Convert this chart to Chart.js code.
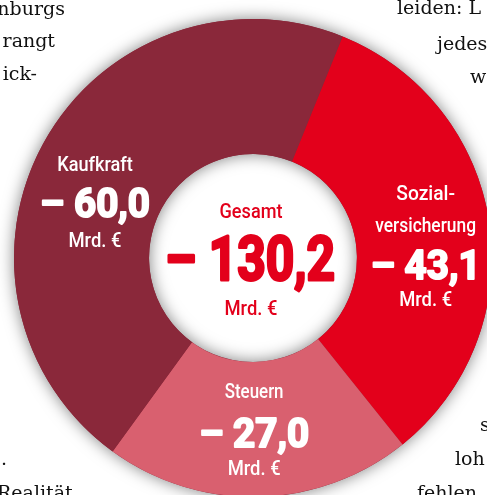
<!DOCTYPE html>
<html>
<head>
<meta charset="utf-8">
<script src="https://cdn.jsdelivr.net/npm/chart.js@4/dist/chart.umd.min.js"></script>
<style>
  html, body { margin: 0; padding: 0; background: #fff; overflow: hidden; width: 487px; height: 495px; }
  #wrap { position: absolute; left: -17px; top: -12px; }
</style>
</head>
<body>
<div id="wrap"><canvas id="ring" width="540" height="540"></canvas></div>
<script>
// data, clockwise from the top boundary
const categories = ['Sozialversicherung', 'Steuern', 'Kaufkraft'];
const values = [43.1, 27.0, 60.0];
const totalLabel = '– 130,2';
const colors = ['#E3001B', '#D9606F', '#8A283A'];

// label lines per slice
const sliceLabels = [
  ['Sozial-', 'versicherung'],
  ['Steuern'],
  ['Kaufkraft']
];
const fmt = v => '– ' + v.toFixed(1).replace('.', ',');

// bits of newspaper text around the graphic
const paper = [
  { t: 'nburgs', x: 65, y: 15, a: 'right' },
  { t: 'rangt', x: 55, y: 47, a: 'right' },
  { t: 'ick-', x: 37, y: 80, a: 'right' },
  { t: 'leiden: L', x: 397, y: 14, a: 'left' },
  { t: 'jedes', x: 437, y: 50, a: 'left' },
  { t: 'w', x: 470, y: 83, a: 'left' },
  { t: '.', x: 1, y: 465, a: 'left' },
  { t: 'Realität', x: -3, y: 499, a: 'left' },
  { t: 's', x: 480, y: 431, a: 'left' },
  { t: 'loh', x: 455, y: 465, a: 'left' },
  { t: 'fehlen', x: 417, y: 499, a: 'left' }
];

function squeezeText(ctx, text, x, y, font, color, width, heavy) {
  ctx.font = font;
  const w = ctx.measureText(text).width;
  const s = width ? width / w : 1;
  ctx.save();
  ctx.translate(x, y);
  ctx.scale(s, 1);
  ctx.textAlign = 'center';
  ctx.textBaseline = 'alphabetic';
  ctx.fillStyle = color;
  ctx.fillText(text, 0, 0);
  if (heavy) {
    ctx.strokeStyle = color;
    ctx.lineWidth = heavy;
    ctx.lineJoin = 'round';
    ctx.strokeText(text, 0, 0);
  }
  ctx.restore();
}

const paperText = {
  id: 'paperText',
  beforeDraw(chart) {
    const ctx = chart.ctx;
    ctx.save();
    ctx.translate(17, 12);
    ctx.font = '19px "DejaVu Serif"';
    ctx.fillStyle = '#111';
    ctx.textBaseline = 'alphabetic';
    paper.forEach(p => {
      ctx.textAlign = p.a;
      ctx.fillText(p.t, p.x, p.y);
    });
    ctx.restore();
  }
};

// soft shadow under the whole ring, inside and outside
const ringShadow = {
  id: 'ringShadow',
  beforeDatasetsDraw(chart) {
    const arc = chart.getDatasetMeta(0).data[0];
    const { x, y, outerRadius, innerRadius } = arc.getProps(['x', 'y', 'outerRadius', 'innerRadius'], true);
    const ctx = chart.ctx;
    ctx.save();
    ctx.shadowColor = 'rgba(0,0,0,0.5)';
    ctx.shadowBlur = 16;
    ctx.fillStyle = colors[2];
    ctx.beginPath();
    ctx.arc(x, y, outerRadius, 0, Math.PI * 2);
    ctx.arc(x, y, innerRadius, 0, Math.PI * 2, true);
    ctx.fill('evenodd');
    ctx.restore();
  }
};

const ringLabels = {
  id: 'ringLabels',
  afterDatasetsDraw(chart) {
    const ctx = chart.ctx;
    const meta = chart.getDatasetMeta(0);
    const c = meta.data[0].getProps(['x', 'y'], true);
    const font = px => '500 ' + px + 'px Roboto';
    const big = px => '700 ' + px + 'px Roboto';

    // centre
    squeezeText(ctx, 'Gesamt', c.x - 2, c.y - 40, font(21), '#E3001B', 63);
    squeezeText(ctx, totalLabel, c.x - 3, c.y + 22, big(62), '#E3001B', 170, 3);
    squeezeText(ctx, 'Mrd. €', c.x - 2, c.y + 57, font(21), '#E3001B', 53);

    // slices
    const shifts = [
      { dx: 3, lines: [-33, -1], num: 46, unit: 73 },
      { dx: -3, lines: [-31], num: 18, unit: 46 },
      { dx: -8, lines: [-4], num: 42, unit: 72 }
    ];
    meta.data.forEach((arc, i) => {
      const p = arc.tooltipPosition(true);
      const s = shifts[i];
      const cx = p.x + s.dx;
      sliceLabels[i].forEach((line, j) => {
        squeezeText(ctx, line, cx, p.y + s.lines[j], font(21), '#fff', line.length * 8.4);
      });
      squeezeText(ctx, fmt(values[i]), cx, p.y + s.num, big(40), '#fff', 110, 2);
      squeezeText(ctx, 'Mrd. €', cx, p.y + s.unit, font(21), '#fff', 53);
    });
  }
};

new Chart(document.getElementById('ring').getContext('2d'), {
  type: 'doughnut',
  data: {
    labels: categories,
    datasets: [{
      data: values,
      backgroundColor: colors,
      borderWidth: 0,
      hoverOffset: 0
    }]
  },
  options: {
    responsive: false,
    animation: false,
    rotation: 22,
    cutout: '43.5%',
    layout: { padding: 31 },
    plugins: {
      legend: { display: false },
      tooltip: { enabled: false }
    }
  },
  plugins: [paperText, ringShadow, ringLabels]
});
</script>
</body>
</html>
